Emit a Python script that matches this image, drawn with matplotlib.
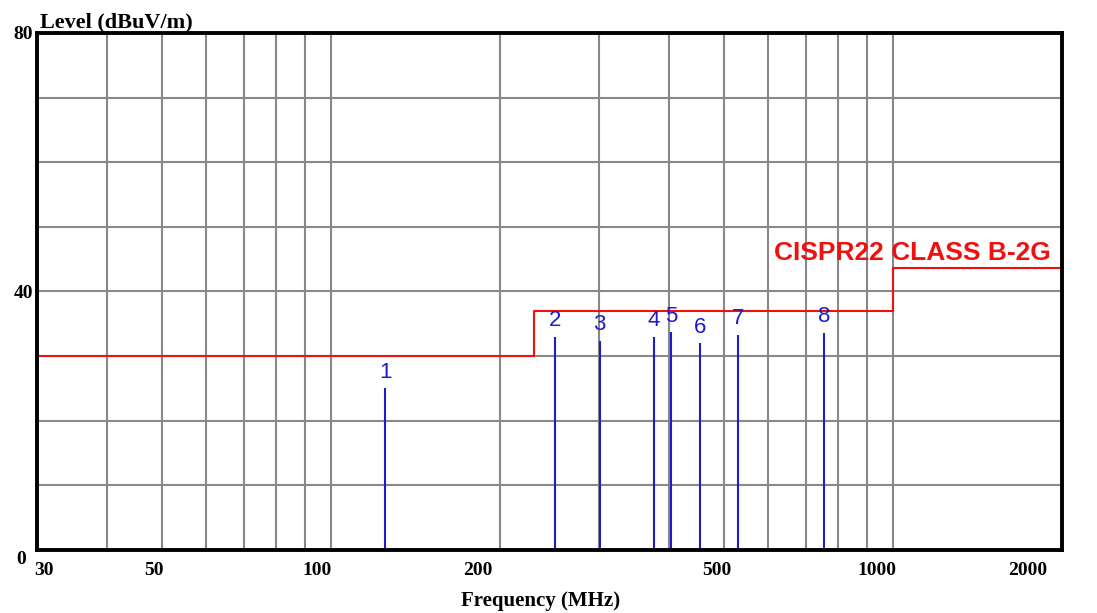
import matplotlib.pyplot as plt
from matplotlib.ticker import FixedLocator, NullFormatter
from matplotlib.transforms import ScaledTranslation

# limit line (step edges) and peak markers
limit_freq = [30, 230, 230, 1000, 1000, 2000]
limit_level = [30, 30, 37, 37, 43.7, 43.7]
limit_name = "CISPR22 CLASS B-2G"

marker_ids = ["1", "2", "3", "4", "5", "6", "7", "8"]
marker_freq = [125, 251, 301, 376, 403, 454, 530, 754]
marker_level = [25.0, 33.0, 32.4, 33.0, 33.7, 32.0, 33.3, 33.6]

x_ticks = [30, 50, 100, 200, 500, 1000, 2000]
x_grid = [40, 50, 60, 70, 80, 90, 100, 200, 300, 400, 500, 600, 700, 800, 900, 1000]
y_ticks = [0, 40, 80]
y_grid = list(range(10, 80, 10))

# the original software nudges its x labels a bit (pixels)
x_label_shift = [7, -8, -14, -22, -7, -16, -34]

serif = dict(family="Liberation Serif", fontweight="bold", fontsize=14)
blue = "#1c1cc8"
red = "#f01010"

fig = plt.figure(figsize=(10.97, 6.13), dpi=100)
ax = fig.add_axes([0.0337, 0.1028, 0.9344, 0.8434])
ax.set_xscale("log")
ax.set_xlim(30, 2000)
ax.set_ylim(0, 80)

for f in x_grid:
    ax.axvline(f, color="#888888", lw=1.5, zorder=1)
for v in y_grid:
    ax.axhline(v, color="#888888", lw=1.5, zorder=1)

ax.plot(limit_freq, limit_level, color=red, lw=1.5, zorder=3)
ax.text(0.854, 0.56, limit_name, color=red, family="Liberation Sans",
        fontweight="bold", fontsize=19, ha="center", va="baseline",
        transform=ax.transAxes, zorder=4)

ax.vlines(marker_freq, 0, marker_level, color=blue, lw=1.5, zorder=4)
for mid, f, v in zip(marker_ids, marker_freq, marker_level):
    ax.annotate(mid, (f, v), xytext=(0, 4), textcoords="offset points",
                color=blue, family="Liberation Sans", fontsize=16,
                ha="center", va="bottom", zorder=4)

ax.xaxis.set_major_locator(FixedLocator(x_ticks))
ax.xaxis.set_minor_locator(FixedLocator([]))
ax.xaxis.set_minor_formatter(NullFormatter())
ax.set_xticklabels([str(t) for t in x_ticks], **serif)
ax.set_yticks(y_ticks)
ax.set_yticklabels([str(t) for t in y_ticks], **serif)
ax.tick_params(length=0)
ax.tick_params(axis="x", pad=9)
ax.tick_params(axis="y", pad=3)

for lab, dx in zip(ax.get_xticklabels(), x_label_shift):
    lab.set_transform(lab.get_transform() + ScaledTranslation(dx / 100, 0, fig.dpi_scale_trans))
ylabs = ax.get_yticklabels()
ylabs[0].set_transform(ylabs[0].get_transform() + ScaledTranslation(-0.07, -0.08, fig.dpi_scale_trans))

for s in ax.spines.values():
    s.set_linewidth(2.8)
    s.set_color("black")
    s.set_zorder(5)

fig.text(40 / 1097, 1 - 27 / 613, "Level (dBuV/m)", ha="left", va="baseline",
         **{**serif, "fontsize": 16})
fig.text(541 / 1097, 1 - 606 / 613, "Frequency (MHz)", ha="center", va="baseline",
         **{**serif, "fontsize": 15})

fig.savefig("out.png", dpi=100)
